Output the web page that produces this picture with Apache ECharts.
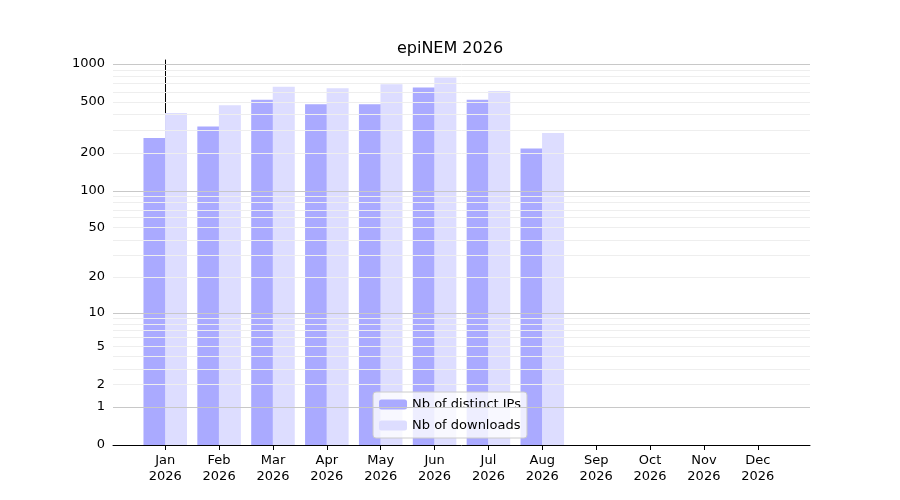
<!DOCTYPE html>
<html><head><meta charset="utf-8">
<script src="https://cdn.jsdelivr.net/npm/echarts@6/dist/echarts.min.js"></script>
<style>html,body{margin:0;background:#fff}#c{width:900px;height:500px}</style>
</head><body><div id="c"></div>
<script>
// chart data
const months = ["Jan", "Feb", "Mar", "Apr", "May", "Jun", "Jul", "Aug", "Sep", "Oct", "Nov", "Dec"];
const year = "2026";
const distinctIPs = [260, 320, 520, 480, 480, 650, 520, 215];
const downloads = [410, 470, 660, 640, 690, 780, 610, 285];
const yTicks = [0, 1, 2, 5, 10, 20, 50, 100, 200, 500, 1000];

// symlog-like transform: log10(v + 1)
function tr(v) { return Math.log10(v + 1); }

let majorLines = [1, 10, 100, 1000];
let minorLines = [];
for (let d = 1; d <= 100; d *= 10) {
  for (let k = 2; k <= 9; k++) minorLines.push(k * d);
}

let chart = echarts.init(document.getElementById("c"));
chart.setOption({
  animation: false,
  title: { text: "epiNEM 2026", left: "center", top: 36, textStyle: { fontSize: 16, fontWeight: "normal", color: "#000", fontFamily: "DejaVu Sans" } },
  grid: { left: 113, right: 90, top: 60, bottom: 55 },
  legend: {
    bottom: 62, left: "center", orient: "vertical", itemWidth: 28, itemHeight: 10,
    borderColor: "#ccc", borderWidth: 1, borderRadius: 3, padding: [6, 6],
    textStyle: { fontFamily: "DejaVu Sans", fontSize: 13, color: "#000" },
    backgroundColor: "rgba(255,255,255,0.8)"
  },
  xAxis: {
    type: "value", min: -0.97, max: 11.97,
    splitLine: { show: false },
    axisLine: { onZero: false, lineStyle: { color: "#000" } },
    axisTick: { customValues: months.map((m, i) => i), lineStyle: { color: "#000" } },
    axisLabel: {
      customValues: months.map((m, i) => i), color: "#000", fontFamily: "DejaVu Sans", fontSize: 13, lineHeight: 16,
      formatter: v => months[Math.round(v)] + "\n" + year
    }
  },
  yAxis: {
    type: "value", min: 0, max: 3.03,
    splitLine: { show: false },
    axisLine: { show: true, lineStyle: { color: "#000" } },
    axisTick: { show: true, customValues: yTicks.map(tr), lineStyle: { color: "#000" } },
    axisLabel: {
      customValues: yTicks.map(tr), color: "#000", fontFamily: "DejaVu Sans", fontSize: 13,
      formatter: v => String(Math.round(Math.pow(10, v) - 1))
    }
  },
  series: [
    {
      name: "Nb of distinct IPs", type: "bar", barWidth: 22, barGap: "-100%",
      itemStyle: { color: "#aaaaff" },
      data: distinctIPs.map((v, i) => [i - 0.2, tr(v)]),
      markLine: {
        silent: true, symbol: "none", label: { show: false },
        lineStyle: { color: "#c8c8c8", type: "solid", width: 1 },
        data: majorLines.map(v => ({ yAxis: tr(v) }))
      }
    },
    {
      name: "Nb of downloads", type: "bar", barWidth: 22, barGap: "-100%",
      itemStyle: { color: "#ddddff" },
      data: downloads.map((v, i) => [i + 0.2, tr(v)]),
      markLine: {
        silent: true, symbol: "none", label: { show: false },
        lineStyle: { color: "#eeeeee", type: "solid", width: 1 },
        data: minorLines.map(v => ({ yAxis: tr(v) }))
      }
    }
  ]
});
</script></body></html>
